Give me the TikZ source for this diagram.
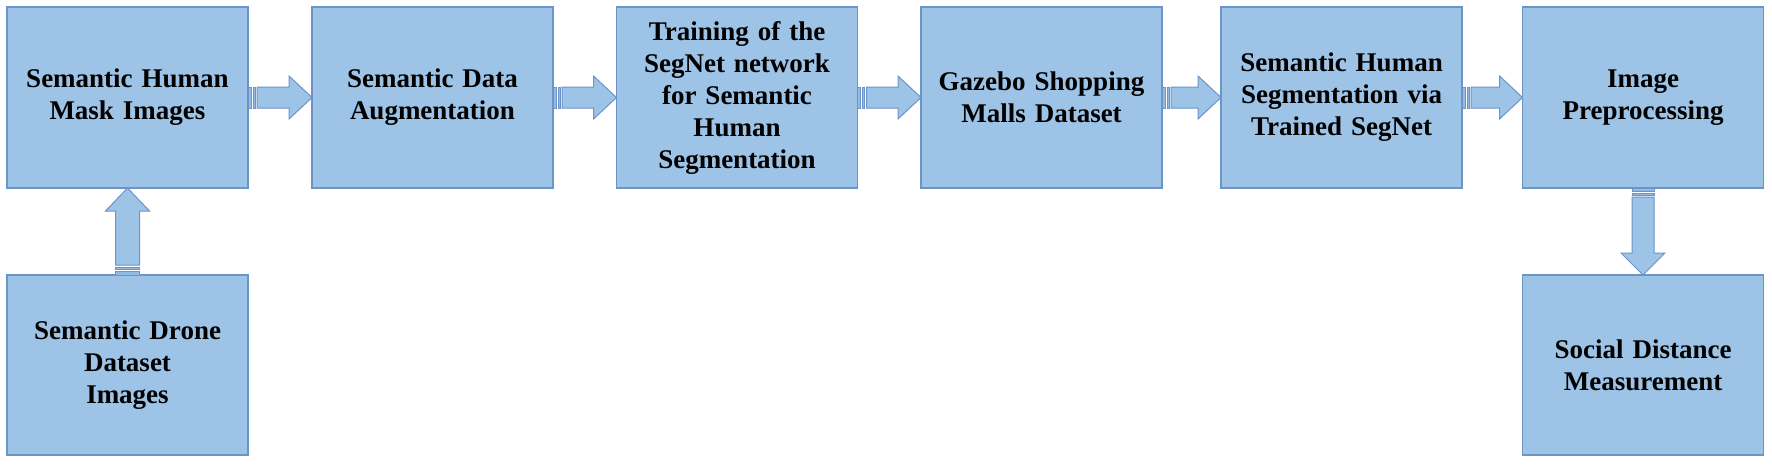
\documentclass[tikz,border=0pt]{standalone}
\usepackage{fontspec}
\setmainfont{Liberation Serif}
\usetikzlibrary{calc}
\definecolor{boxfill}{RGB}{157,195,230}
\definecolor{boxline}{RGB}{108,148,200}
\tikzset{
  stepbox/.style={draw=boxline, fill=boxfill, line width=1.3pt, minimum width=241pt, minimum height=181pt, outer sep=0pt, inner sep=2pt, text width=236pt, align=center, font=\bfseries\fontsize{27}{32}\selectfont},
  barrow/.style={draw=boxline, fill=boxfill, line width=1pt, line join=miter},
  stripe/.style={draw=boxline, fill=boxfill!80!boxline, line width=0.8pt}
}
\newcommand\harrow[2]{%
  \draw[stripe] ($(#1.east)+(0,-10.5)$) rectangle ($(#1.east)+(3,10.5)$);
  \draw[stripe] ($(#1.east)+(5,-10.5)$) rectangle ($(#1.east)+(7,10.5)$);
  \draw[barrow] ($(#1.east)+(9,-10.5)$) -- ($(#2.west)+(-23,-10.5)$) -- ($(#2.west)+(-23,-21.5)$) -- (#2.west) -- ($(#2.west)+(-23,21.5)$) -- ($(#2.west)+(-23,10.5)$) -- ($(#1.east)+(9,10.5)$) -- cycle;
}
\begin{document}
\begin{tikzpicture}[x=1pt,y=-1pt]
\useasboundingbox (0,0) rectangle (1772,464);
\node[stepbox] (b1) at (127.5,97.5) {Semantic Human\\Mask Images};
\node[stepbox] (b2) at (432.5,97.5) {Semantic Data\\Augmentation};
\node[stepbox] (b3) at (737,97.5) {Training of the\\SegNet network\\for Semantic\\Human\\Segmentation};
\node[stepbox] (b4) at (1041.5,97.5) {Gazebo Shopping\\Malls Dataset};
\node[stepbox] (b5) at (1341.5,97.5) {Semantic Human\\Segmentation via\\Trained SegNet};
\node[stepbox] (b6) at (1643,97.5) {Image\\Preprocessing};
\node[stepbox, minimum height=180pt] (d1) at (127.5,365) {Semantic Drone\\Dataset\\Images};
\node[stepbox, minimum height=180pt] (s1) at (1643,365) {Social Distance\\Measurement};
\harrow{b1}{b2}
\harrow{b2}{b3}
\harrow{b3}{b4}
\harrow{b4}{b5}
\harrow{b5}{b6}
% up arrow from d1 to b1
\draw[stripe] ($(d1.north)+(-12,0)$) rectangle ($(d1.north)+(12,-4)$);
\draw[stripe] ($(d1.north)+(-12,-6)$) rectangle ($(d1.north)+(12,-8)$);
\draw[barrow] ($(d1.north)+(-12,-10)$) -- ($(b1.south)+(-12,23)$) -- ($(b1.south)+(-22,23)$) -- (b1.south) -- ($(b1.south)+(22,23)$) -- ($(b1.south)+(12,23)$) -- ($(d1.north)+(12,-10)$) -- cycle;
% down arrow from b6 to s1
\draw[stripe] ($(b6.south)+(-11,0)$) rectangle ($(b6.south)+(11,3)$);
\draw[stripe] ($(b6.south)+(-11,5)$) rectangle ($(b6.south)+(11,7)$);
\draw[barrow] ($(b6.south)+(-11,9)$) -- ($(s1.north)+(-11,-22)$) -- ($(s1.north)+(-22,-22)$) -- (s1.north) -- ($(s1.north)+(22,-22)$) -- ($(s1.north)+(11,-22)$) -- ($(b6.south)+(11,9)$) -- cycle;
\end{tikzpicture}
\end{document}
